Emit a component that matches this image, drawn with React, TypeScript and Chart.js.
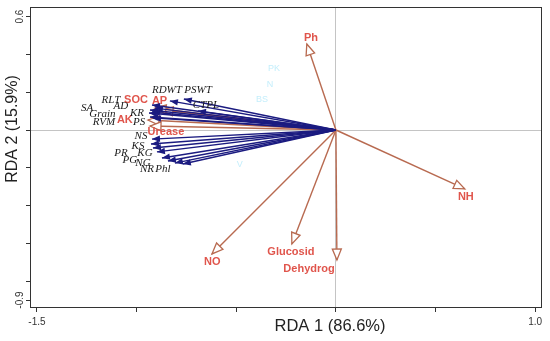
import React, { useEffect, useRef } from "react";
import { Chart, registerables } from "chart.js";

Chart.register(...registerables);

// ---- data (RDA scores) ----
const traitNames = ["RDWT", "PSWT", "CTPL", "RLT", "AD", "SA", "Grain", "RVM", "KR", "PS", "NS", "KS", "KG", "PR", "PG", "NG", "NR", "Phl"];
const traitX = [-0.833, -0.763, -0.692, -0.923, -0.908, -0.933, -0.938, -0.933, -0.923, -0.918, -0.923, -0.928, -0.918, -0.898, -0.873, -0.843, -0.808, -0.768];
const traitY = [0.154, 0.164, 0.101, 0.132, 0.116, 0.106, 0.09, 0.069, 0.095, 0.064, -0.048, -0.074, -0.095, -0.116, -0.148, -0.164, -0.175, -0.18];
const traitLabelX = [-0.848, -0.692, -0.652, -1.129, -1.079, -1.249, -1.172, -1.164, -0.998, -0.988, -0.978, -0.993, -0.958, -1.079, -1.034, -0.968, -0.948, -0.868];
const traitLabelY = [0.212, 0.212, 0.132, 0.159, 0.124, 0.114, 0.083, 0.04, 0.09, 0.042, -0.032, -0.085, -0.122, -0.122, -0.159, -0.175, -0.206, -0.206];

const envNames = ["Ph", "NH", "NO", "Glucosid", "Dehydrog", "Urease", "SOC", "AP", "AK"];
const envX = [-0.146, 0.647, -0.622, -0.221, 0.005, -0.933, -0.908, -0.873, -0.943];
const envY = [0.455, -0.312, -0.656, -0.603, -0.688, 0.021, 0.116, 0.106, 0.053];
const envLabelX = [-0.125, 0.652, -0.62, -0.226, -0.135, -0.853, -1.003, -0.885, -1.059];
const envLabelY = [0.487, -0.357, -0.701, -0.648, -0.738, -0.011, 0.159, 0.154, 0.053];

const siteNames = ["PK", "N", "BS", "V"];
const siteX = [-0.311, -0.331, -0.371, -0.482];
const siteY = [0.326, 0.241, 0.164, -0.18];

const xTicks = [-1.5, -1.0, -0.5, 0, 0.5, 1.0];
const xTickLabels = ["-1.5", "", "", "", "", "1.0"];
const yTicks = [0.6, 0.4, 0.2, 0, -0.2, -0.4, -0.6, -0.8, -0.9];
const yTickLabels = ["0.6", "", "", "", "", "", "", "", "-0.9"];

const xTitle = "RDA 1 (86.6%)";
const yTitle = "RDA 2 (15.9%)";

// ---- styles ----
const BLUE = "#1b1b80";
const BROWN = "#b86a50";
const RED_TEXT = "#e0554c";
const SANS = "'Liberation Sans', Arial, sans-serif";
const SERIF = "'Liberation Serif', 'Times New Roman', serif";

const nTrait = traitNames.length;

const rdaPlugin = {
  id: "rdaPlugin",
  beforeDatasetsDraw(chart: any) {
    const { ctx, scales } = chart;
    ctx.save();
    ctx.font = `9px ${SANS}`;
    ctx.fillStyle = "#c4eefb";
    ctx.textAlign = "center";
    ctx.textBaseline = "middle";
    siteNames.forEach((n, i) => {
      ctx.fillText(n, scales.x.getPixelForValue(siteX[i]), scales.y.getPixelForValue(siteY[i]));
    });
    ctx.restore();
  },
  afterDatasetDraw(chart: any, args: any) {
    const { ctx, scales } = chart;
    const ds = chart.data.datasets[args.index];
    const pts = args.meta.data;
    if (!pts || pts.length < 2) return;
    const p0 = pts[0];
    const p1 = pts[1];
    const ang = Math.atan2(p1.y - p0.y, p1.x - p0.x);
    const isEnv = ds.kind === "env";
    const len = isEnv ? 11 : 8;
    const hw = isEnv ? 4.5 : 3.2;
    const bx = p1.x - len * Math.cos(ang);
    const by = p1.y - len * Math.sin(ang);
    const nx = -Math.sin(ang);
    const ny = Math.cos(ang);
    ctx.save();
    ctx.beginPath();
    ctx.moveTo(p1.x, p1.y);
    ctx.lineTo(bx + hw * nx, by + hw * ny);
    ctx.lineTo(bx - hw * nx, by - hw * ny);
    ctx.closePath();
    if (isEnv) {
      ctx.fillStyle = "#ffffff";
      ctx.fill();
      ctx.strokeStyle = BROWN;
      ctx.lineWidth = 1.3;
      ctx.stroke();
    } else {
      ctx.fillStyle = BLUE;
      ctx.fill();
    }
    ctx.restore();

    // red labels after the last env arrow is drawn (before the trait arrows)
    if (args.index === nTrait) {
      ctx.save();
      ctx.font = `bold 11px ${SANS}`;
      ctx.fillStyle = RED_TEXT;
      ctx.textAlign = "center";
      ctx.textBaseline = "middle";
      envNames.forEach((n, i) => {
        ctx.fillText(n, scales.x.getPixelForValue(envLabelX[i]), scales.y.getPixelForValue(envLabelY[i]));
      });
      ctx.restore();
    }
  },
  afterDatasetsDraw(chart: any) {
    const { ctx, scales } = chart;
    ctx.save();
    ctx.font = `italic 11px ${SERIF}`;
    ctx.fillStyle = "#1a1a1a";
    ctx.textAlign = "center";
    ctx.textBaseline = "middle";
    traitNames.forEach((n, i) => {
      ctx.fillText(n, scales.x.getPixelForValue(traitLabelX[i]), scales.y.getPixelForValue(traitLabelY[i]));
    });
    ctx.restore();
  },
  afterDraw(chart: any) {
    const { ctx, chartArea } = chart;
    ctx.save();
    ctx.strokeStyle = "#333";
    ctx.lineWidth = 1;
    ctx.strokeRect(chartArea.left + 0.5, chartArea.top + 0.5, chartArea.right - chartArea.left - 1, chartArea.bottom - chartArea.top - 1);
    ctx.fillStyle = "#222";
    ctx.font = `16.5px ${SANS}`;
    ctx.textAlign = "center";
    ctx.textBaseline = "middle";
    ctx.fillText(xTitle, 330, 326);
    ctx.font = `16px ${SANS}`;
    ctx.translate(13, 129);
    ctx.rotate(-Math.PI / 2);
    ctx.fillText(yTitle, 0, 0);
    ctx.restore();
  },
};

export default function App() {
  const ref = useRef<HTMLCanvasElement>(null);
  useEffect(() => {
    if (!ref.current) return;
    Chart.defaults.font.family = SANS;
    const datasets: any[] = [
      ...traitNames.map((n, i) => ({
        label: n,
        kind: "trait",
        data: [{ x: 0, y: 0 }, { x: traitX[i], y: traitY[i] }],
        showLine: true,
        borderColor: BLUE,
        borderWidth: 1.4,
        pointRadius: 0,
      })),
      ...envNames.map((n, i) => ({
        label: n,
        kind: "env",
        data: [{ x: 0, y: 0 }, { x: envX[i], y: envY[i] }],
        showLine: true,
        borderColor: BROWN,
        borderWidth: 1.4,
        pointRadius: 0,
      })),
    ];
    const chart = new Chart(ref.current, {
      type: "scatter",
      data: { datasets },
      plugins: [rdaPlugin],
      options: {
        responsive: false,
        animation: false,
        events: [],
        layout: { padding: { left: 0, top: 7, right: 8, bottom: 0 } },
        plugins: { legend: { display: false }, tooltip: { enabled: false } },
        scales: {
          x: {
            type: "linear",
            min: -1.535,
            max: 1.034,
            afterBuildTicks: (s: any) => {
              s.ticks = xTicks.map((v) => ({ value: v }));
            },
            afterFit: (s: any) => {
              s.height = 33;
            },
            border: { display: false },
            grid: {
              drawOnChartArea: true,
              drawTicks: true,
              tickLength: 4,
              color: (c: any) => (c.tick && c.tick.value === 0 ? "#c4c4c4" : "rgba(0,0,0,0)"),
              tickColor: "#333",
            },
            ticks: {
              autoSkip: false,
              maxRotation: 0,
              minRotation: 0,
              padding: 4,
              color: "#333",
              font: { size: 10, family: SANS },
              callback: (v: any) => {
                const i = xTicks.indexOf(v);
                return i >= 0 ? xTickLabels[i] : "";
              },
            },
          },
          y: {
            type: "linear",
            min: -0.942,
            max: 0.651,
            afterBuildTicks: (s: any) => {
              s.ticks = yTicks.map((v) => ({ value: v }));
            },
            afterFit: (s: any) => {
              s.width = 30;
            },
            border: { display: false },
            grid: {
              drawOnChartArea: true,
              drawTicks: true,
              tickLength: 4,
              color: (c: any) => (c.tick && c.tick.value === 0 ? "#c4c4c4" : "rgba(0,0,0,0)"),
              tickColor: "#333",
            },
            ticks: {
              autoSkip: false,
              minRotation: 90,
              maxRotation: 90,
              crossAlign: "center",
              padding: -3,
              color: "#333",
              font: { size: 10, family: SANS },
              callback: (v: any) => {
                const i = yTicks.indexOf(v);
                return i >= 0 ? yTickLabels[i] : "";
              },
            },
          },
        },
      } as any,
    });
    return () => chart.destroy();
  }, []);
  return (
    <div style={{ position: "fixed", left: 0, top: 0, width: 550, height: 341, background: "#fff" }}>
      <canvas ref={ref} width={550} height={341} />
    </div>
  );
}
